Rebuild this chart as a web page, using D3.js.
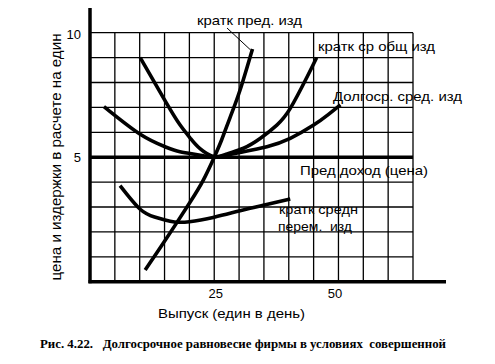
<!DOCTYPE html>
<html><head><meta charset="utf-8">
<script src="https://cdn.jsdelivr.net/npm/d3@7"></script>
<style>body{margin:0;background:#fff}svg{display:block}text{white-space:pre}</style>
</head><body><svg id="c" width="495" height="364"></svg>
<script>
// Data (output units per day, price/cost per unit)
const mcCurve  = [[11.1,0.47],[15,1.62],[20,3.15],[22.8,4.08],[25,5],[26.5,5.7],[28.2,6.6],[30.2,7.7],[32.7,9.35]];
const atcCurve = [[10.1,9.0],[15.3,7.2],[18.1,6.3],[20.2,5.76],[22.2,5.33],[25,5.02],[27.6,5.13],[30.9,5.36],[34.3,5.76],[37.6,6.29],[40.3,6.96],[43.7,8.23],[45.6,9.0]];
const lacCurve = [[2.8,7.03],[10.1,5.92],[15.1,5.42],[18.1,5.22],[22.2,5.08],[25,5.0],[27.6,5.09],[30.9,5.22],[35.6,5.42],[40.3,5.76],[45,6.29],[48,6.72],[50.4,7.1]];
const avcCurve = [[6.05,3.86],[10.1,2.91],[13,2.6],[15.1,2.48],[17,2.4],[20,2.41],[25,2.59],[30.2,2.85],[35.1,3.08],[40.3,3.32]];
const priceLevel = 5;
const xTicks = [25, 50];
const yTicks = [5, 10];
const gridX = d3.range(0, 66, 5);
const gridY = d3.range(0, 11, 1);
const labels = {
  mc: "кратк пред. изд",
  atc: "кратк ср общ изд",
  lac: "Долгоср. сред. изд",
  mr: "Пред доход (цена)",
  avc1: "кратк средн",
  avc2: "перем.  изд",
  xTitle: "Выпуск (един в день)",
  yTitle: "цена и издержки в расчете на един",
  caption: "Рис. 4.22.   Долгосрочное равновесие фирмы в условиях  совершенной"
};

const svg = d3.select("#c");
const x = d3.scaleLinear().domain([0, 65]).range([90, 413]);
const y = d3.scaleLinear().domain([0, 10]).range([281.7, 32.7]);
const font = "'Liberation Sans', Arial, sans-serif";

// grid
svg.append("g").selectAll("line").data(gridX).join("line")
  .attr("x1", d => x(d)).attr("x2", d => x(d))
  .attr("y1", y(0)).attr("y2", y(10))
  .attr("stroke", "#000").attr("stroke-width", 1.3);
svg.append("g").selectAll("line").data(gridY).join("line")
  .attr("x1", x(0)).attr("x2", x(65))
  .attr("y1", d => y(d)).attr("y2", d => y(d))
  .attr("stroke", "#000").attr("stroke-width", 1.3);

// axes lines
svg.append("line").attr("x1", x(0)).attr("x2", x(0)).attr("y1", 8).attr("y2", y(0) + 1.5)
  .attr("stroke", "#000").attr("stroke-width", 3.5);
svg.append("line").attr("x1", x(0) - 1.5).attr("x2", 446).attr("y1", y(0)).attr("y2", y(0))
  .attr("stroke", "#000").attr("stroke-width", 3.5);
// price line
svg.append("line").attr("x1", x(0)).attr("x2", x(65)).attr("y1", y(priceLevel)).attr("y2", y(priceLevel))
  .attr("stroke", "#000").attr("stroke-width", 3.5);

// tick labels via axes
const xa = svg.append("g").attr("transform", `translate(0,${y(0)})`)
  .call(d3.axisBottom(x).tickValues(xTicks).tickSize(0).tickPadding(7).tickFormat(d3.format("d")));
xa.select(".domain").remove();
xa.selectAll("text").attr("font-family", font).attr("font-size", 13).attr("fill", "#000")
  .attr("dx", d => d === 50 ? -4 : 1);
const ya = svg.append("g").attr("transform", `translate(${x(0)},0)`)
  .call(d3.axisLeft(y).tickValues(yTicks).tickSize(0).tickPadding(9).tickFormat(d3.format("d")));
ya.select(".domain").remove();
ya.selectAll("text").attr("font-family", font).attr("font-size", 13).attr("fill", "#000")
  .attr("dy", d => d === 10 ? "0.45em" : "0.32em");

// curves
const line = d3.line().x(d => x(d[0])).y(d => y(d[1])).curve(d3.curveNatural);
[mcCurve, atcCurve, lacCurve, avcCurve].forEach(c => {
  svg.append("path").attr("d", line(c)).attr("fill", "none")
    .attr("stroke", "#000").attr("stroke-width", 3.6).attr("stroke-linecap", "butt");
});

// leader line for MC label
svg.append("line").attr("x1", 227).attr("y1", 28).attr("x2", x(mcCurve[mcCurve.length-1][0]) - 2)
  .attr("y2", y(mcCurve[mcCurve.length-1][1]) + 1)
  .attr("stroke", "#000").attr("stroke-width", 1);

function txt(s, tx, ty, len, size) {
  const t = svg.append("text").attr("x", tx).attr("y", ty).text(s)
    .attr("font-family", font).attr("font-size", size || 13).attr("fill", "#000");
  if (len) t.attr("textLength", len).attr("lengthAdjust", "spacingAndGlyphs");
  return t;
}
txt(labels.mc, 197, 25, 105);
txt(labels.atc, 318, 51, 117);
txt(labels.lac, 333, 101, 129);
txt(labels.mr, 300, 175, 128);
txt(labels.avc1, 279, 214, 79);
txt(labels.avc2, 278, 231, 74);
txt(labels.xTitle, 158, 318, 147);

// y title
svg.append("text").attr("transform", "translate(61,157) rotate(-90)")
  .attr("text-anchor", "middle").text(labels.yTitle)
  .attr("font-family", font).attr("font-size", 14).attr("fill", "#000")
  .attr("textLength", 247).attr("lengthAdjust", "spacingAndGlyphs");

// caption
svg.append("text").attr("x", 40).attr("y", 348).text(labels.caption)
  .attr("font-family", "'Liberation Serif', 'Times New Roman', serif").attr("font-weight", "bold")
  .attr("font-size", 11.5).attr("fill", "#000")
  .attr("textLength", 406).attr("lengthAdjust", "spacingAndGlyphs");
</script></body></html>
